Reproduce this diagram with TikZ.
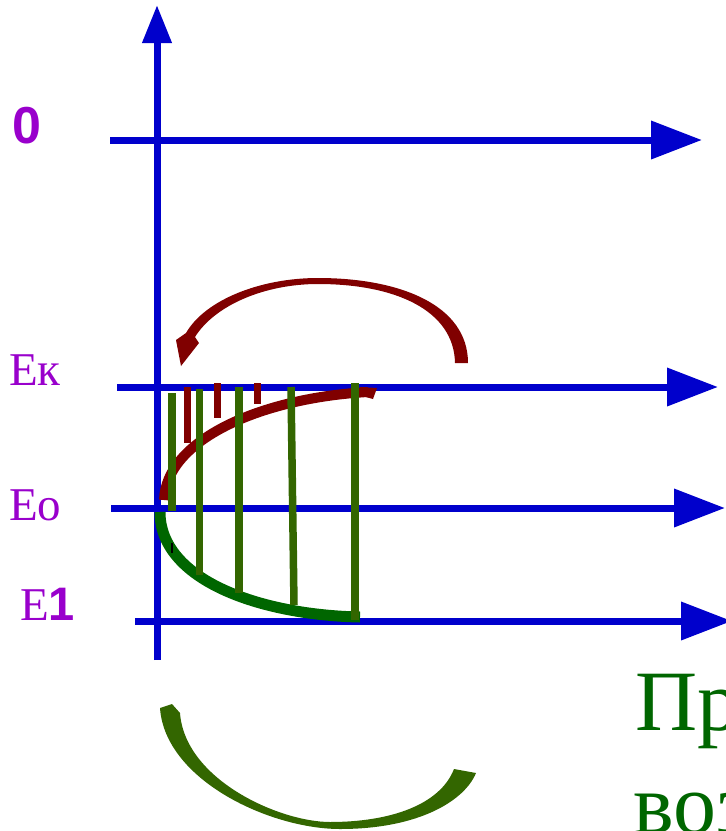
\documentclass[tikz,border=0pt]{standalone}
\usepackage{fontspec}
\setmainfont{Liberation Serif}
\newfontfamily\boldsans{Liberation Sans}
\usetikzlibrary{arrows.meta}
\definecolor{axisblue}{HTML}{0000CC}
\definecolor{labpurple}{HTML}{9900CC}
\definecolor{darkred}{HTML}{800000}
\definecolor{bargreen}{HTML}{336600}
\definecolor{curvegreen}{HTML}{006600}
\definecolor{arcgreen}{HTML}{336600}
\begin{document}
\begin{tikzpicture}[x=1pt,y=-1pt,
  axis/.style={draw=axisblue,line width=7pt},
  bighead/.style={-{Triangle[length=51pt,width=37pt]}},
  lab/.style={text=labpurple,inner sep=0pt,anchor=base west,font=\fontsize{47}{56}\selectfont},
  redtick/.style={draw=darkred,line width=7pt},
  greenbar/.style={draw=bargreen,line width=7.5pt},
  bigtext/.style={text=curvegreen,inner sep=0pt,anchor=base west,font=\fontsize{86}{103}\selectfont}]
\clip (0,0) rectangle (726,831);
% axes
\coordinate (vb) at (157,660); \coordinate (vt) at (157,5);
\coordinate (z0) at (110,140); \coordinate (z1) at (702,140);
\coordinate (k0) at (117,387); \coordinate (k1) at (718,387);
\coordinate (o0) at (111,508); \coordinate (o1) at (725,508);
\coordinate (e0) at (135,621); \coordinate (e1) at (732,621);
\draw[axis,-{Triangle[length=38pt,width=28pt]}] (vb) -- (vt);
\draw[axis,bighead] (z0) -- (z1);
\draw[axis,bighead] (k0) -- (k1);
\draw[axis,bighead] (o0) -- (o1);
\draw[axis,bighead] (e0) -- (e1);
% labels
\node[lab,font=\boldsans\bfseries\fontsize{52}{60}\selectfont] (l0) at (12,143) {0};
\node[lab] (lk) at (9,385) {Eк};
\node[lab] (lo) at (9,520) {Eo};
\node[lab] (l1) at (20,620) {E{\boldsans\bfseries 1}};
% red curve and ticks
\coordinate (rs) at (164,500); \coordinate (re) at (368,392);
\draw[draw=darkred,line width=10pt] (rs) .. controls (166,440) and (260,398) .. (re);
\fill[darkred] (360,387) -- (377,388) -- (373,399) -- (362,396) -- cycle;
\draw[redtick] (187,387) -- (187,443);
\draw[redtick] (217,383) -- (217,418);
\draw[redtick] (257,383) -- (257,404);
% green curve
\coordinate (gs) at (160,512); \coordinate (ge) at (360,617);
\draw[draw=curvegreen,line width=11pt] (gs) .. controls (160,580) and (260,615) .. (ge);
% green bars
\draw[greenbar] (172,393) -- (172,511);
\draw[greenbar] (199.5,389) -- (199.5,575);
\draw[greenbar] (239,387) -- (239,593);
\draw[greenbar] (291,387) -- (294,605);
\draw[greenbar] (355,383) -- (355,620);
\draw[line width=1.5pt] (172,543) -- (172,553);
% top red arc arrow
\fill[darkred] (468,363) .. controls (468,305) and (400,278) .. (318,278)
  .. controls (260,278) and (205,300) .. (186,333)
  -- (176,340) -- (181,366) -- (199,343) -- (195,337)
  .. controls (215,305) and (265,284) .. (318,284)
  .. controls (395,284) and (454,310) .. (455,363) -- cycle;
% bottom green arc
\fill[arcgreen] (160,708) .. controls (165,780) and (270,829) .. (340,829)
  .. controls (420,829) and (465,800) .. (476,773)
  -- (454,769)
  .. controls (440,805) and (390,822) .. (330,822)
  .. controls (280,822) and (185,780) .. (180,713)
  -- (172,704) -- cycle;
% text
\node[bigtext] (t1) at (635,730) {Пр};
\node[bigtext] (t2) at (633,833.5) {воз};
\end{tikzpicture}
\end{document}
